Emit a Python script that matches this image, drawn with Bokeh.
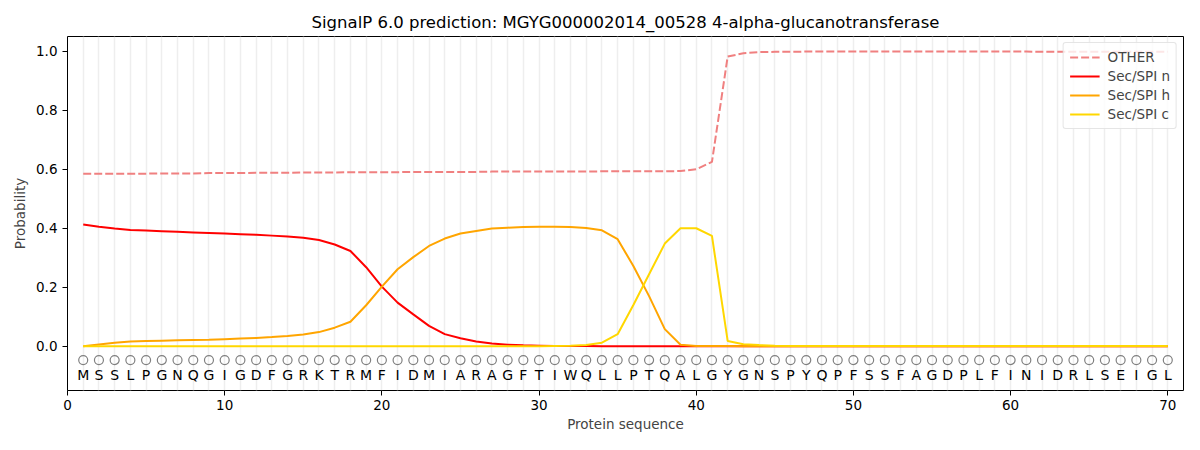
from bokeh.plotting import figure
from bokeh.models import FixedTicker, Legend, LegendItem, ColumnDataSource, Range1d
from bokeh.core.properties import value
from bokeh.embed import file_html
from bokeh.resources import INLINE

sequence = list("MSSLPGNQGIGDFGRKTRMFIDMIARAGFTIWQLLPTQALGYGNSPYQPFSSFAGDPLFINIDRLSEIGL")
positions = list(range(1, len(sequence) + 1))

other = [0.585, 0.585, 0.585, 0.585, 0.585, 0.586, 0.586, 0.586, 0.587, 0.587,
         0.587, 0.588, 0.588, 0.588, 0.589, 0.589, 0.589, 0.590, 0.590, 0.590,
         0.590, 0.591, 0.591, 0.591, 0.591, 0.591, 0.592, 0.592, 0.592, 0.592,
         0.592, 0.592, 0.592, 0.593, 0.593, 0.593, 0.593, 0.593, 0.594, 0.600,
         0.625, 0.982, 0.993, 0.997, 0.998, 0.998, 0.999, 0.999, 0.999, 0.999,
         0.999, 0.999, 0.999, 0.999, 0.999, 0.999, 0.999, 0.999, 0.999, 0.999,
         0.999, 0.998, 0.998, 0.998, 0.998, 0.998, 0.998, 0.998, 0.998, 0.998]

sec_n = [0.413, 0.405, 0.399, 0.394, 0.392, 0.390, 0.388, 0.386, 0.384, 0.382,
         0.380, 0.378, 0.375, 0.372, 0.368, 0.360, 0.345, 0.323, 0.268, 0.202,
         0.148, 0.108, 0.069, 0.041, 0.027, 0.016, 0.009, 0.005, 0.003, 0.002,
         0.001, 0.001, 0.001, 0.000, 0.000, 0.000, 0.000, 0.000, 0.000, 0.000,
         0.000, 0.000, 0.000, 0.000, 0.000, 0.000, 0.000, 0.000, 0.000, 0.000,
         0.000, 0.000, 0.000, 0.000, 0.000, 0.000, 0.000, 0.000, 0.000, 0.000,
         0.000, 0.000, 0.000, 0.000, 0.000, 0.000, 0.000, 0.000, 0.000, 0.000]

sec_h = [0.000, 0.006, 0.012, 0.016, 0.018, 0.019, 0.020, 0.021, 0.022, 0.024,
         0.026, 0.028, 0.031, 0.035, 0.040, 0.048, 0.063, 0.083, 0.139, 0.202,
         0.261, 0.302, 0.340, 0.365, 0.382, 0.391, 0.399, 0.402, 0.404, 0.405,
         0.405, 0.404, 0.401, 0.393, 0.363, 0.272, 0.170, 0.058, 0.005, 0.001,
         0.001, 0.001, 0.000, 0.000, 0.000, 0.000, 0.000, 0.000, 0.000, 0.000,
         0.000, 0.000, 0.000, 0.000, 0.000, 0.000, 0.000, 0.000, 0.000, 0.000,
         0.000, 0.000, 0.000, 0.000, 0.000, 0.000, 0.000, 0.000, 0.000, 0.000]

sec_c = [0.000, 0.000, 0.000, 0.000, 0.000, 0.000, 0.000, 0.000, 0.000, 0.000,
         0.000, 0.000, 0.000, 0.000, 0.000, 0.000, 0.000, 0.000, 0.000, 0.000,
         0.000, 0.000, 0.000, 0.000, 0.000, 0.000, 0.000, 0.000, 0.000, 0.000,
         0.001, 0.002, 0.004, 0.012, 0.041, 0.140, 0.244, 0.348, 0.400, 0.400,
         0.374, 0.018, 0.007, 0.004, 0.002, 0.001, 0.001, 0.001, 0.001, 0.001,
         0.001, 0.001, 0.001, 0.001, 0.001, 0.001, 0.001, 0.001, 0.001, 0.001,
         0.001, 0.001, 0.001, 0.001, 0.001, 0.001, 0.001, 0.001, 0.001, 0.001]

x_ticks = [0, 10, 20, 30, 40, 50, 60, 70]
y_ticks = [0.0, 0.2, 0.4, 0.6, 0.8, 1.0]

FONT = "DejaVu Sans"

p = figure(width=1184, height=434, output_backend="svg", toolbar_location=None,
           x_range=Range1d(0, 71), y_range=Range1d(-0.15, 1.05),
           min_border_left=67, min_border_right=1, min_border_top=36, min_border_bottom=44)

p.title.text = "SignalP 6.0 prediction: MGYG000002014_00528 4-alpha-glucanotransferase"
p.title.align = "center"
p.title.text_font = FONT
p.title.text_font_size = "16.5px"
p.title.text_font_style = "normal"
p.title.text_color = "#000000"
p.title.offset = 0

p.outline_line_color = "#000000"
p.outline_line_width = 1

p.ygrid.visible = False
p.xgrid.ticker = FixedTicker(ticks=positions)
p.xgrid.grid_line_color = "#eeeeee"
p.xgrid.grid_line_width = 1.5

for ax in (p.xaxis[0], p.yaxis[0]):
    ax.major_label_text_font = FONT
    ax.major_label_text_font_size = "13.5px"
    ax.major_label_text_color = "#000000"
    ax.axis_label_text_font = FONT
    ax.axis_label_text_font_size = "13.5px"
    ax.axis_label_text_font_style = "normal"
    ax.axis_line_color = None
    ax.major_tick_line_color = "#000000"
    ax.major_tick_out = 5
    ax.major_tick_in = 0
    ax.minor_tick_line_color = None

p.xaxis.major_label_standoff = 4
p.xaxis.axis_label_standoff = 3

p.xaxis.ticker = FixedTicker(ticks=x_ticks)
p.yaxis.ticker = FixedTicker(ticks=y_ticks)
p.yaxis.major_label_overrides = {t: f"{t:.1f}" for t in y_ticks}
p.xaxis.axis_label = "Protein sequence"
p.yaxis.axis_label = "Probability"

src = ColumnDataSource(dict(x=positions, other=other, n=sec_n, h=sec_h, c=sec_c,
                            aa=sequence, oy=[-0.047] * len(positions),
                            ly=[-0.098] * len(positions)))

r_other = p.line("x", "other", source=src, line_color="#f08080", line_width=2, line_dash="8 3")
r_n = p.line("x", "n", source=src, line_color="#ff0000", line_width=2)
r_h = p.line("x", "h", source=src, line_color="#ffa500", line_width=2)
r_c = p.line("x", "c", source=src, line_color="#ffd700", line_width=2)

p.scatter("x", "oy", source=src, marker="circle", size=9, fill_color=None,
          line_color="#808080", line_width=1.2)
p.text("x", "ly", text="aa", source=src, text_font=value(FONT), text_font_size="14px",
       text_align="center", text_baseline="middle", text_color="#000000")

legend = Legend(items=[LegendItem(label="OTHER", renderers=[r_other]),
                       LegendItem(label="Sec/SPI n", renderers=[r_n]),
                       LegendItem(label="Sec/SPI h", renderers=[r_h]),
                       LegendItem(label="Sec/SPI c", renderers=[r_c])],
                location="top_right")
legend.label_text_font = FONT
legend.label_text_font_size = "13.5px"
legend.border_line_color = "#cccccc"
legend.border_radius = 3
legend.background_fill_alpha = 0.8
legend.padding = 6
legend.spacing = 3
legend.label_height = 16
legend.glyph_height = 16
legend.glyph_width = 30
legend.label_standoff = 8
legend.margin = 6
p.add_layout(legend)

open("out.html", "w").write(file_html(p, INLINE))
